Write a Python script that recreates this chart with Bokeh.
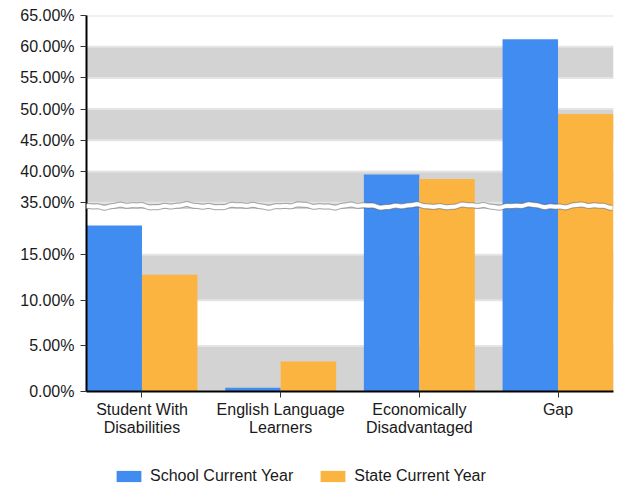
import numpy as np
from bokeh.plotting import figure
from bokeh.layouts import column
from bokeh.models import Range1d, FixedTicker, Legend, LegendItem, PolyAnnotation
from bokeh.embed import file_html
from bokeh.resources import INLINE

# ---- data ----
categories = ["Student With\nDisabilities", "English Language\nLearners",
              "Economically\nDisadvantaged", "Gap"]
school = [18.2, 0.4, 39.5, 61.2]
state = [12.8, 3.3, 38.8, 49.2]
series_names = ["School Current Year", "State Current Year"]
lower_ticks = [0, 5, 10, 15]
upper_ticks = [35, 40, 45, 50, 55, 60, 65]
grey_bands = [(0, 5), (10, 15), (35, 40), (45, 50), (55, 60)]

# ---- broken axis scale ----
LO_MAX, HI_MIN, HI_MAX = 20.0, 35.0, 65.0
LO_SCALE, HI_SCALE = 9.12, 6.24
BREAK_LO = LO_MAX * LO_SCALE
BREAK_HI = BREAK_LO + 6.4
TOP = BREAK_HI + (HI_MAX - HI_MIN) * HI_SCALE


def disp(v):
    if v <= LO_MAX:
        return v * LO_SCALE
    return BREAK_HI + (v - HI_MIN) * HI_SCALE


BLUE = "#418CF0"
ORANGE = "#FCB441"
BAND = "#D3D3D3"
FONT = "Liberation Sans"
TXT = "#1a1a1a"

p = figure(width=620, height=445, output_backend="svg", toolbar_location=None,
           x_range=Range1d(-0.4, 3.4), y_range=Range1d(0, TOP),
           min_border_left=86, min_border_right=7, min_border_top=15,
           min_border_bottom=54)
p.outline_line_color = None
p.xgrid.visible = False
p.ygrid.visible = False

# bands
b_bottom = [BREAK_LO if lo == HI_MIN else disp(lo) for lo, hi in grey_bands]
b_top = [disp(hi) for lo, hi in grey_bands]
p.quad(left=-0.4, right=3.4, bottom=b_bottom, top=b_top,
       fill_color=BAND, line_color=None)

# grid lines
all_ticks = lower_ticks + upper_ticks
tick_pos = [disp(t) for t in all_ticks]
p.segment(x0=-0.4, x1=3.4, y0=tick_pos, y1=tick_pos,
          line_color="#e4e4e4", line_width=2)

# bars
x = np.arange(len(categories))
r1 = p.vbar(x=x - 0.2, width=0.4, bottom=0, top=[disp(v) for v in school],
            fill_color=BLUE, line_color=None)
r2 = p.vbar(x=x + 0.2, width=0.4, bottom=0, top=[disp(v) for v in state],
            fill_color=ORANGE, line_color=None)

# axis break (decoration)
px = np.arange(80, 614, 2.0)
xs = list((px - 86) / 138.7 - 0.4)
w = (1.0 * np.sin(2 * np.pi * px / 57.0) + 0.6 * np.sin(2 * np.pi * px / 23.0 + 1.0)
     + 0.3 * np.sin(2 * np.pi * px / 11.0 + 2.0))
top_line = list(BREAK_HI - 0.8 + w)
bot_line = list(BREAK_LO + 0.6 + w)
p.add_layout(PolyAnnotation(xs=xs + xs[::-1], ys=top_line + bot_line[::-1],
                            fill_color="white", fill_alpha=1, line_color=None))
p.add_layout(PolyAnnotation(xs=xs + xs[::-1], ys=top_line + top_line[::-1],
                            fill_alpha=0, line_color="#5a5a5a", line_width=1))
p.add_layout(PolyAnnotation(xs=xs + xs[::-1], ys=bot_line + bot_line[::-1],
                            fill_alpha=0, line_color="#5a5a5a", line_width=1))

# y axis
ya = p.yaxis[0]
ya.ticker = FixedTicker(ticks=tick_pos)
ya.major_label_overrides = {pos: f"{t:.2f}%" for pos, t in zip(tick_pos, all_ticks)}
ya.axis_line_color = "black"
ya.axis_line_width = 2
ya.major_tick_line_color = "#333333"
ya.major_tick_out = 6
ya.major_tick_in = 0
ya.minor_tick_line_color = None
ya.major_label_standoff = 6
ya.major_label_text_font = FONT
ya.major_label_text_font_size = "16px"
ya.major_label_text_color = TXT

# x axis
xa = p.xaxis[0]
xa.ticker = FixedTicker(ticks=list(x))
xa.major_label_overrides = {int(i): c for i, c in zip(x, categories)}
xa.axis_line_color = "black"
xa.axis_line_width = 2
xa.major_tick_line_color = "#333333"
xa.major_tick_out = 6
xa.major_tick_in = 0
xa.minor_tick_line_color = None
xa.major_label_standoff = 3
xa.major_label_text_font = FONT
xa.major_label_text_font_size = "16px"
xa.major_label_text_color = TXT
xa.major_label_text_line_height = 1.1

# legend figure (frame is aligned with the main plot frame by the column)
lg = figure(width=620, height=42, output_backend="svg", toolbar_location=None,
            x_range=Range1d(0, 1), y_range=Range1d(0, 1),
            x_axis_location=None, y_axis_location=None,
            min_border=0)
lg.outline_line_color = None
lg.xgrid.visible = False
lg.ygrid.visible = False
# empty (NaN) markers that only feed the legend swatches
l1 = lg.vbar(x=[np.nan], width=0.1, top=[np.nan], fill_color=BLUE, line_color=None)
l2 = lg.vbar(x=[np.nan], width=0.1, top=[np.nan], fill_color=ORANGE, line_color=None)
legend = Legend(items=[LegendItem(label=series_names[0], renderers=[l1]),
                       LegendItem(label=series_names[1], renderers=[l2])],
                location=(27, 2), orientation="horizontal",
                glyph_width=31, glyph_height=14, label_height=14,
                label_standoff=6, spacing=24,
                padding=0, margin=0, border_line_color=None,
                background_fill_alpha=0, label_text_font=FONT,
                label_text_font_size="16px", label_text_color=TXT)
lg.add_layout(legend)

layout = column(p, lg, spacing=0)
open("out.html", "w").write(file_html(layout, INLINE))
